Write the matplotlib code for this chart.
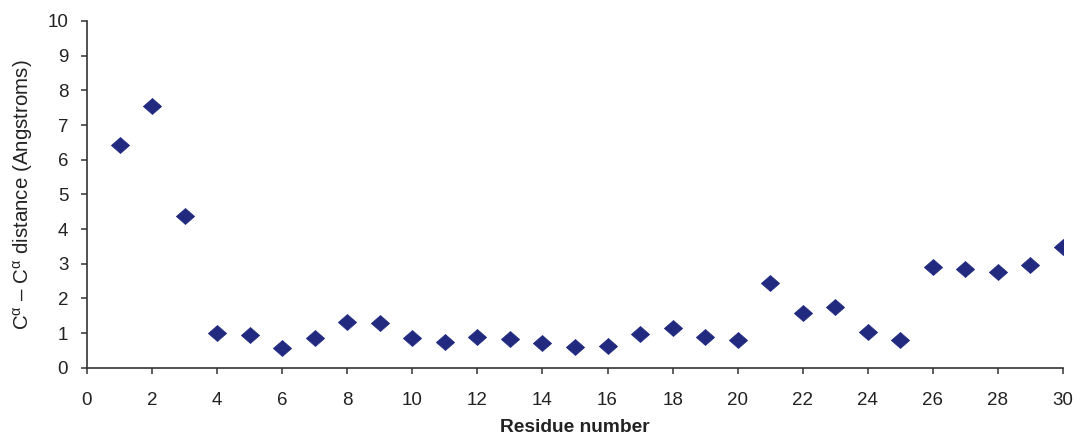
import matplotlib
matplotlib.use("Agg")
import matplotlib.pyplot as plt

residues = list(range(1, 31))
distances = [6.43, 7.55, 4.38, 0.99, 0.94, 0.56, 0.87, 1.31, 1.28, 0.85,
             0.75, 0.89, 0.83, 0.70, 0.59, 0.63, 0.96, 1.15, 0.89, 0.80,
             2.44, 1.59, 1.76, 1.03, 0.79, 2.91, 2.84, 2.77, 2.96, 3.49]
x_ticks = list(range(0, 31, 2))
y_ticks = list(range(0, 11))

plt.rcParams['font.family'] = ['Liberation Sans', 'DejaVu Sans']
plt.rcParams['mathtext.fontset'] = 'custom'
plt.rcParams['mathtext.rm'] = 'Liberation Sans'
plt.rcParams['mathtext.it'] = 'Liberation Sans:italic'

fig = plt.figure(figsize=(10.76, 4.38), dpi=100)
ax = fig.add_axes([87/1076, 1 - 367.7/438, (1063-87)/1076, (367.7-21)/438])

diamond = [(-1, 0), (0, 0.88), (1, 0), (0, -0.88), (-1, 0)]
ax.plot(residues, distances, linestyle='none', marker=diamond, markersize=13,
        color='#222A80', markeredgecolor='#222A80', markeredgewidth=0.6)

ax.set_xlim(0, 30)
ax.set_ylim(0, 10)
ax.set_xticks(x_ticks)
ax.set_yticks(y_ticks)
for s in ['top', 'right']:
    ax.spines[s].set_visible(False)
for s in ['left', 'bottom']:
    ax.spines[s].set_color('#333333')
    ax.spines[s].set_linewidth(1.2)
ax.tick_params(axis='both', direction='out', length=4.5, width=1.1,
               color='#333333', labelsize=13.5, labelcolor='#222222')
ax.tick_params(axis='x', pad=13)
ax.tick_params(axis='y', pad=9)

ax.set_xlabel('Residue number', fontsize=13.8, fontweight='bold', color='#222222', labelpad=7)
ax.set_ylabel(r'C$^{\mathrm{\alpha}}$ – C$^{\mathrm{\alpha}}$ distance (Angstroms)', fontsize=14.8,
              color='#222222', labelpad=9)

fig.savefig('out.png', dpi=100)
